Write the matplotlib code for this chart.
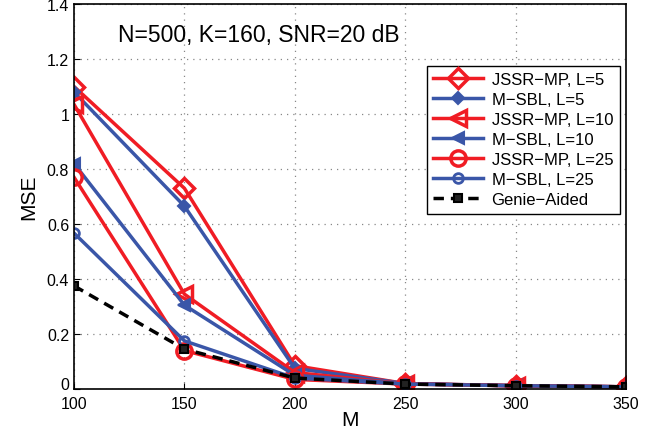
import matplotlib.pyplot as plt

M = [100, 150, 200, 250, 300, 350]

jssr_l5 = [1.10, 0.73, 0.085, 0.020, 0.012, 0.008]
msbl_l5 = [1.08, 0.665, 0.075, 0.020, 0.012, 0.008]
jssr_l10 = [1.035, 0.345, 0.060, 0.019, 0.012, 0.008]
msbl_l10 = [0.82, 0.305, 0.050, 0.019, 0.012, 0.008]
jssr_l25 = [0.77, 0.14, 0.035, 0.018, 0.012, 0.008]
msbl_l25 = [0.567, 0.175, 0.040, 0.018, 0.012, 0.008]
genie = [0.375, 0.145, 0.040, 0.018, 0.012, 0.008]

red = '#f01c24'
blue = '#3a56a8'

plt.rcParams['font.family'] = ['Liberation Sans', 'DejaVu Sans']

fig = plt.figure(figsize=(6.46, 4.35), dpi=100)
ax = fig.add_axes([0.1146, 0.1034, 0.8544, 0.885])

ax.plot(M, jssr_l5, color=red, lw=2.5, marker='D', ms=10, mfc='none', mew=2.5, label='JSSR\u2212MP, L=5')
ax.plot(M, msbl_l5, color=blue, lw=2.5, marker='D', ms=6, mfc=blue, mew=1.5, label='M\u2212SBL, L=5')
ax.plot(M, jssr_l10, color=red, lw=2.5, marker='<', ms=12, mfc='none', mew=2.5, label='JSSR\u2212MP, L=10')
ax.plot(M, msbl_l10, color=blue, lw=2.5, marker='<', ms=8, mfc=blue, mew=1.5, label='M\u2212SBL, L=10')
ax.plot(M, jssr_l25, color=red, lw=2.5, marker='o', ms=11, mfc='none', mew=2.5, label='JSSR\u2212MP, L=25')
ax.plot(M, msbl_l25, color=blue, lw=2.5, marker='o', ms=7, mfc='none', mew=2, label='M\u2212SBL, L=25')
ax.plot(M, genie, color='black', lw=2.5, ls=(0, (3, 2)), marker='s', ms=6, mfc='#222222', mew=1.5, label='Genie\u2212Aided')

ax.set_xlim(100, 350)
ax.set_ylim(0, 1.4)
ax.set_xticks(M)
ax.set_yticks([0, 0.2, 0.4, 0.6, 0.8, 1.0, 1.2, 1.4])
ax.set_yticklabels(['0', '0.2', '0.4', '0.6', '0.8', '1', '1.2', '1.4'])
ax.tick_params(labelsize=11.5, direction='in', length=4)
ax.tick_params(axis='x', pad=5)
ax.get_yticklabels()[0].set_va('baseline')
ax.grid(True, color='#888888', ls=(0, (1, 4)), lw=0.9)
for s in ax.spines.values():
    s.set_linewidth(1.2)

ax.set_xlabel('M', fontsize=15, labelpad=-1)
ax.set_ylabel('MSE', fontsize=15, labelpad=6)
ax.text(120, 1.29, 'N=500, K=160, SNR=20 dB', fontsize=16.5, va='center')

leg = ax.legend(loc='upper right', bbox_to_anchor=(0.989, 0.84), fontsize=12, handlelength=3.0,
                fancybox=False, framealpha=1, edgecolor='black', borderpad=0.4, labelspacing=0.3,
                handletextpad=0.5, borderaxespad=0)
leg.get_frame().set_linewidth(1.0)

fig.savefig('out.png', dpi=100)
